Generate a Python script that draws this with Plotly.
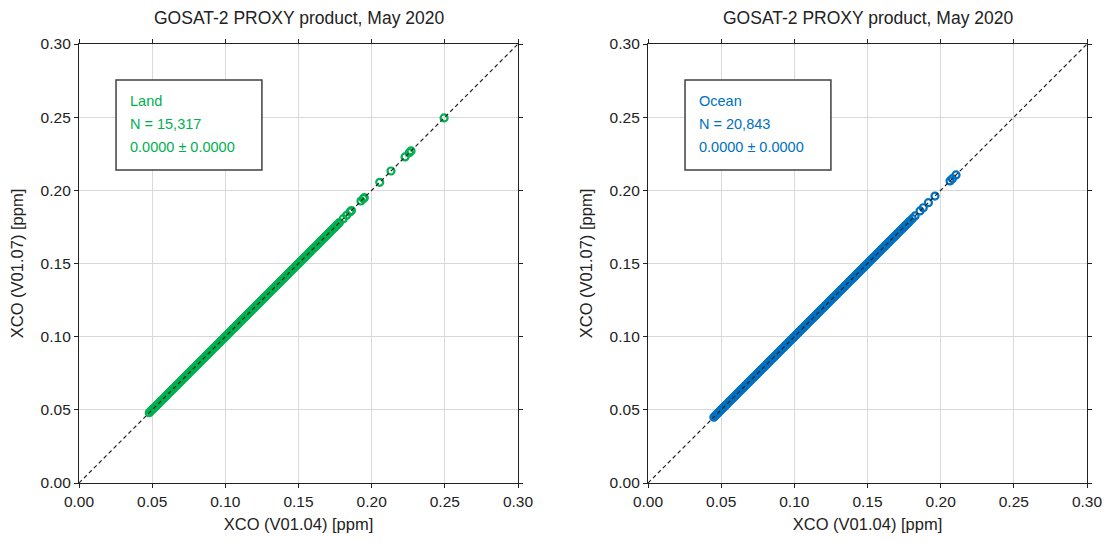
import plotly.graph_objects as go

# ---------------- data ----------------
title_text = "GOSAT-2 PROXY product, May 2020"
x_title = "XCO (V01.04) [ppm]"
y_title = "XCO (V01.07) [ppm]"
tick_vals = [0.00, 0.05, 0.10, 0.15, 0.20, 0.25, 0.30]
tick_text = ["0.00", "0.05", "0.10", "0.15", "0.20", "0.25", "0.30"]

land_label = "Land"
land_n = "N = 15,317"
land_stat = "0.0000 ± 0.0000"
land_v104 = [
    0.048, 0.049, 0.050, 0.051, 0.052, 0.053, 0.054, 0.055, 0.056, 0.057,
    0.058, 0.059, 0.060, 0.061, 0.062, 0.063, 0.064, 0.065, 0.066, 0.067,
    0.068, 0.069, 0.070, 0.071, 0.072, 0.073, 0.074, 0.075, 0.076, 0.077,
    0.078, 0.079, 0.080, 0.081, 0.082, 0.083, 0.084, 0.085, 0.086, 0.087,
    0.088, 0.089, 0.090, 0.091, 0.092, 0.093, 0.094, 0.095, 0.096, 0.097,
    0.098, 0.099, 0.100, 0.101, 0.102, 0.103, 0.104, 0.105, 0.106, 0.107,
    0.108, 0.109, 0.110, 0.111, 0.112, 0.113, 0.114, 0.115, 0.116, 0.117,
    0.118, 0.119, 0.120, 0.121, 0.122, 0.123, 0.124, 0.125, 0.126, 0.127,
    0.128, 0.129, 0.130, 0.131, 0.132, 0.133, 0.134, 0.135, 0.136, 0.137,
    0.138, 0.139, 0.140, 0.141, 0.142, 0.143, 0.144, 0.145, 0.146, 0.147,
    0.148, 0.149, 0.150, 0.151, 0.152, 0.153, 0.154, 0.155, 0.156, 0.157,
    0.158, 0.159, 0.160, 0.161, 0.162, 0.163, 0.164, 0.165, 0.166, 0.167,
    0.168, 0.169, 0.170, 0.171, 0.172, 0.173, 0.174, 0.175, 0.176, 0.177,
    0.178, 0.1806, 0.1829, 0.1852, 0.1862, 0.1927, 0.1943, 0.1950, 0.2055,
    0.2132, 0.2228, 0.2257, 0.2269, 0.2495,
]
land_v107 = [
    0.048, 0.049, 0.050, 0.051, 0.052, 0.053, 0.054, 0.055, 0.056, 0.057,
    0.058, 0.059, 0.060, 0.061, 0.062, 0.063, 0.064, 0.065, 0.066, 0.067,
    0.068, 0.069, 0.070, 0.071, 0.072, 0.073, 0.074, 0.075, 0.076, 0.077,
    0.078, 0.079, 0.080, 0.081, 0.082, 0.083, 0.084, 0.085, 0.086, 0.087,
    0.088, 0.089, 0.090, 0.091, 0.092, 0.093, 0.094, 0.095, 0.096, 0.097,
    0.098, 0.099, 0.100, 0.101, 0.102, 0.103, 0.104, 0.105, 0.106, 0.107,
    0.108, 0.109, 0.110, 0.111, 0.112, 0.113, 0.114, 0.115, 0.116, 0.117,
    0.118, 0.119, 0.120, 0.121, 0.122, 0.123, 0.124, 0.125, 0.126, 0.127,
    0.128, 0.129, 0.130, 0.131, 0.132, 0.133, 0.134, 0.135, 0.136, 0.137,
    0.138, 0.139, 0.140, 0.141, 0.142, 0.143, 0.144, 0.145, 0.146, 0.147,
    0.148, 0.149, 0.150, 0.151, 0.152, 0.153, 0.154, 0.155, 0.156, 0.157,
    0.158, 0.159, 0.160, 0.161, 0.162, 0.163, 0.164, 0.165, 0.166, 0.167,
    0.168, 0.169, 0.170, 0.171, 0.172, 0.173, 0.174, 0.175, 0.176, 0.177,
    0.178, 0.1806, 0.1829, 0.1852, 0.1862, 0.1927, 0.1943, 0.1950, 0.2055,
    0.2132, 0.2228, 0.2257, 0.2269, 0.2495,
]

ocean_label = "Ocean"
ocean_n = "N = 20,843"
ocean_stat = "0.0000 ± 0.0000"
ocean_v104 = [
    0.045, 0.046, 0.047, 0.048, 0.049, 0.050, 0.051, 0.052, 0.053, 0.054,
    0.055, 0.056, 0.057, 0.058, 0.059, 0.060, 0.061, 0.062, 0.063, 0.064,
    0.065, 0.066, 0.067, 0.068, 0.069, 0.070, 0.071, 0.072, 0.073, 0.074,
    0.075, 0.076, 0.077, 0.078, 0.079, 0.080, 0.081, 0.082, 0.083, 0.084,
    0.085, 0.086, 0.087, 0.088, 0.089, 0.090, 0.091, 0.092, 0.093, 0.094,
    0.095, 0.096, 0.097, 0.098, 0.099, 0.100, 0.101, 0.102, 0.103, 0.104,
    0.105, 0.106, 0.107, 0.108, 0.109, 0.110, 0.111, 0.112, 0.113, 0.114,
    0.115, 0.116, 0.117, 0.118, 0.119, 0.120, 0.121, 0.122, 0.123, 0.124,
    0.125, 0.126, 0.127, 0.128, 0.129, 0.130, 0.131, 0.132, 0.133, 0.134,
    0.135, 0.136, 0.137, 0.138, 0.139, 0.140, 0.141, 0.142, 0.143, 0.144,
    0.145, 0.146, 0.147, 0.148, 0.149, 0.150, 0.151, 0.152, 0.153, 0.154,
    0.155, 0.156, 0.157, 0.158, 0.159, 0.160, 0.161, 0.162, 0.163, 0.164,
    0.165, 0.166, 0.167, 0.168, 0.169, 0.170, 0.171, 0.172, 0.173, 0.174,
    0.175, 0.176, 0.177, 0.178, 0.179, 0.1806, 0.1825, 0.1859, 0.1881,
    0.1916, 0.1961, 0.2064, 0.2080, 0.2105,
]
ocean_v107 = [
    0.045, 0.046, 0.047, 0.048, 0.049, 0.050, 0.051, 0.052, 0.053, 0.054,
    0.055, 0.056, 0.057, 0.058, 0.059, 0.060, 0.061, 0.062, 0.063, 0.064,
    0.065, 0.066, 0.067, 0.068, 0.069, 0.070, 0.071, 0.072, 0.073, 0.074,
    0.075, 0.076, 0.077, 0.078, 0.079, 0.080, 0.081, 0.082, 0.083, 0.084,
    0.085, 0.086, 0.087, 0.088, 0.089, 0.090, 0.091, 0.092, 0.093, 0.094,
    0.095, 0.096, 0.097, 0.098, 0.099, 0.100, 0.101, 0.102, 0.103, 0.104,
    0.105, 0.106, 0.107, 0.108, 0.109, 0.110, 0.111, 0.112, 0.113, 0.114,
    0.115, 0.116, 0.117, 0.118, 0.119, 0.120, 0.121, 0.122, 0.123, 0.124,
    0.125, 0.126, 0.127, 0.128, 0.129, 0.130, 0.131, 0.132, 0.133, 0.134,
    0.135, 0.136, 0.137, 0.138, 0.139, 0.140, 0.141, 0.142, 0.143, 0.144,
    0.145, 0.146, 0.147, 0.148, 0.149, 0.150, 0.151, 0.152, 0.153, 0.154,
    0.155, 0.156, 0.157, 0.158, 0.159, 0.160, 0.161, 0.162, 0.163, 0.164,
    0.165, 0.166, 0.167, 0.168, 0.169, 0.170, 0.171, 0.172, 0.173, 0.174,
    0.175, 0.176, 0.177, 0.178, 0.179, 0.1806, 0.1825, 0.1859, 0.1881,
    0.1916, 0.1961, 0.2064, 0.2080, 0.2105,
]

one_to_one = [0.0, 0.30]
axis_range = [0.0, 0.30]

# ---------------- style ----------------
GREEN = "#00B050"
BLUE = "#0070C0"
FONT = "Liberation Sans, Arial, sans-serif"
W, H = 1107, 543

fig = go.Figure()

panels = [
    ("x", "y", land_v104, land_v107, GREEN, land_label, land_n, land_stat),
    ("x2", "y2", ocean_v104, ocean_v107, BLUE, ocean_label, ocean_n, ocean_stat),
]

for xa, ya, xs, ys, col, lab, nn, st in panels:
    fig.add_trace(go.Scatter(
        x=xs, y=ys, xaxis=xa, yaxis=ya, mode="markers",
        marker=dict(symbol="circle-open", size=7, color=col, line=dict(width=2.2, color=col)),
        showlegend=False, hoverinfo="skip",
    ))
    fig.add_trace(go.Scatter(
        x=one_to_one, y=one_to_one, xaxis=xa, yaxis=ya, mode="lines",
        line=dict(color="#222222", width=1.2, dash="4px,3px"),
        showlegend=False, hoverinfo="skip",
    ))
    fig.add_shape(type="rect", xref=xa, yref=ya, x0=0.0253, x1=0.1250, y0=0.2139, y1=0.2754,
                  line=dict(color="#404040", width=1.5), fillcolor="white", layer="above")
    for txt, yv in [(lab, 0.2610), (nn, 0.2453), (st, 0.2296)]:
        fig.add_annotation(x=0.0335, y=yv, xref=xa, yref=ya, text=txt, showarrow=False,
                           xanchor="left", yanchor="middle",
                           font=dict(family=FONT, size=14.5, color=col))

axis_common = dict(
    range=axis_range, tickvals=tick_vals, ticktext=tick_text,
    showgrid=True, gridcolor="#d9d9d9", gridwidth=1,
    showline=True, linecolor="#222222", linewidth=1.3, mirror="ticks",
    ticks="outside", ticklen=4, tickcolor="#222222", tickwidth=1,
    zeroline=False, tickfont=dict(family=FONT, size=15.5, color="#222222"),
    title_font=dict(family=FONT, size=16.5, color="#222222"), fixedrange=True,
    automargin=False,
)

x0a, x1a = 79 / W, 518 / W
x0b, x1b = 648 / W, 1087 / W
yb, yt = 1 - 483 / H, 1 - 44 / H

fig.update_layout(
    width=W, height=H, margin=dict(l=0, r=0, t=0, b=0),
    paper_bgcolor="white", plot_bgcolor="white",
    xaxis=dict(axis_common, domain=[x0a, x1a], anchor="y", title=dict(text=x_title, standoff=9)),
    yaxis=dict(axis_common, domain=[yb, yt], anchor="x", title=dict(text=y_title, standoff=12)),
    xaxis2=dict(axis_common, domain=[x0b, x1b], anchor="y2", title=dict(text=x_title, standoff=9)),
    yaxis2=dict(axis_common, domain=[yb, yt], anchor="x2", title=dict(text=y_title, standoff=12)),
    font=dict(family=FONT, color="#222222"),
)

for xc in [(x0a + x1a) / 2, (x0b + x1b) / 2]:
    fig.add_annotation(x=xc, y=1 - 18 / H, xref="paper", yref="paper", text=title_text,
                       showarrow=False, xanchor="center", yanchor="middle",
                       font=dict(family=FONT, size=17.5, color="#222222"))

fig.write_html(
    "out.html",
    config={"displayModeBar": False},
    post_script="document.body.style.margin='0px';document.body.style.overflow='hidden';",
)
